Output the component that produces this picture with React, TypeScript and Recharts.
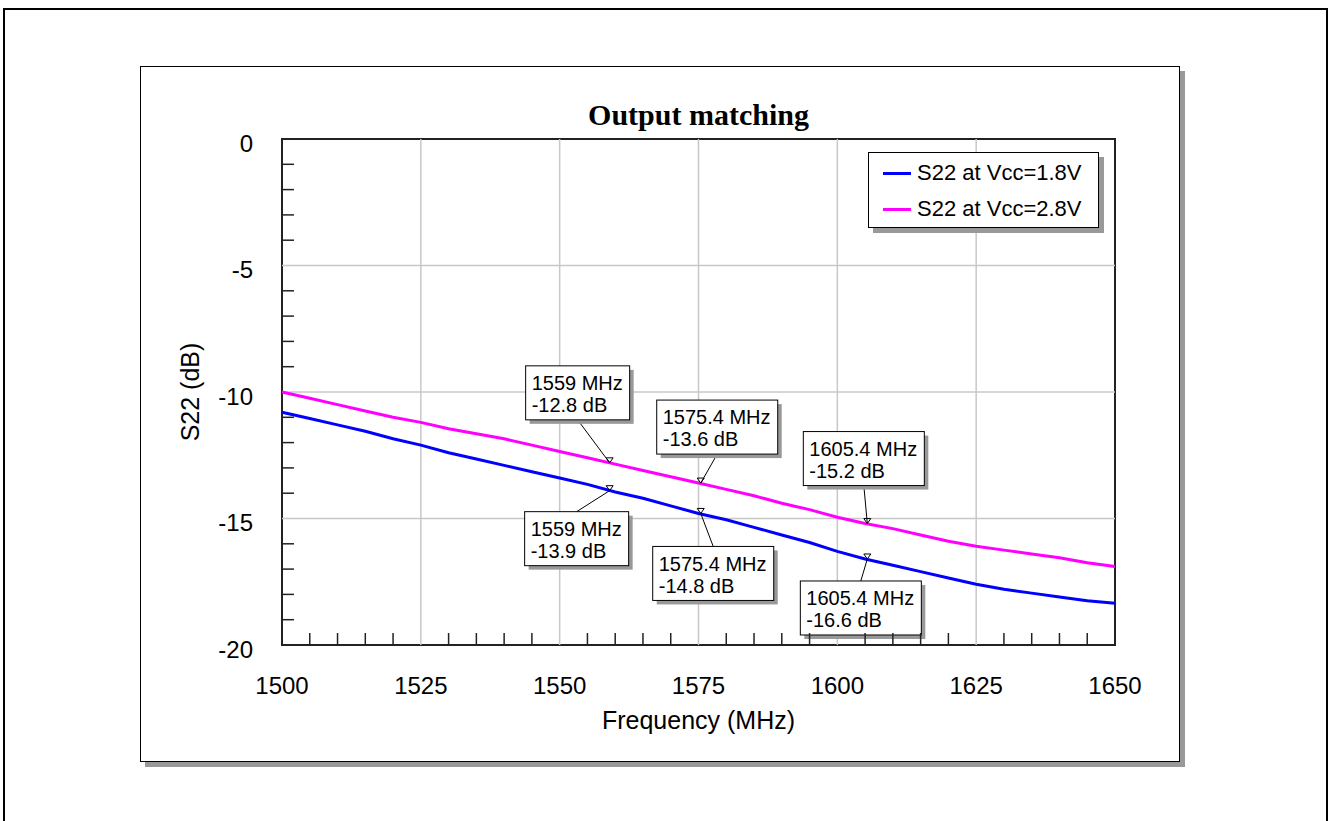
import React from "react";
import {
  LineChart,
  Line,
  XAxis,
  YAxis,
  ReferenceLine,
  ReferenceArea,
  ReferenceDot,
  Legend,
} from "recharts";

// frequency points (MHz)
const frequencies = [
  1500, 1505, 1510, 1515, 1520, 1525, 1530, 1535, 1540, 1545, 1550, 1555, 1560,
  1565, 1570, 1575, 1580, 1585, 1590, 1595, 1600, 1605, 1610, 1615, 1620, 1625,
  1630, 1635, 1640, 1645, 1650,
];

// S22 (dB) at Vcc = 1.8 V
const s22Vcc18 = [
  -10.8, -11.05, -11.3, -11.55, -11.85, -12.1, -12.4, -12.65, -12.9, -13.15,
  -13.4, -13.65, -13.95, -14.2, -14.5, -14.8, -15.05, -15.35, -15.65, -15.95,
  -16.3, -16.6, -16.85, -17.1, -17.35, -17.6, -17.8, -17.95, -18.1, -18.25,
  -18.35,
];

// S22 (dB) at Vcc = 2.8 V
const s22Vcc28 = [
  -10.0, -10.25, -10.5, -10.75, -11.0, -11.2, -11.45, -11.65, -11.85, -12.1,
  -12.35, -12.6, -12.85, -13.1, -13.35, -13.6, -13.85, -14.1, -14.4, -14.65,
  -14.95, -15.2, -15.4, -15.65, -15.9, -16.1, -16.25, -16.4, -16.55, -16.75,
  -16.9,
];

const xTicks = [
  1500, 1505, 1510, 1515, 1520, 1525, 1530, 1535, 1540, 1545, 1550, 1555, 1560,
  1565, 1570, 1575, 1580, 1585, 1590, 1595, 1600, 1605, 1610, 1615, 1620, 1625,
  1630, 1635, 1640, 1645, 1650,
];
const xGrid = [1525, 1550, 1575, 1600, 1625];
const yTicks = [
  0, -1, -2, -3, -4, -5, -6, -7, -8, -9, -10, -11, -12, -13, -14, -15, -16, -17,
  -18, -19, -20,
];
const yGrid = [-5, -10, -15];

// marker callouts
const markerFreqs = [1559, 1559, 1575.4, 1575.4, 1605.4, 1605.4];
const markerValues = [-12.8, -13.9, -13.6, -14.8, -15.2, -16.6];

// where each callout box sits relative to its point
const calloutLayout = [
  { dx: -84, dy: -97, w: 104 },
  { dx: -85, dy: 21, w: 104 },
  { dx: -44, dy: -83, w: 121 },
  { dx: -48, dy: 33, w: 121 },
  { dx: -64, dy: -92, w: 121 },
  { dx: -67, dy: 22, w: 121 },
];

const chartData = frequencies.map((f, i) => ({
  f,
  v18: s22Vcc18[i],
  v28: s22Vcc28[i],
}));

const FONT = "'Liberation Sans', Arial, sans-serif";

const XTick = (props: any) => {
  const { x, y, payload } = props;
  const v = payload.value;
  if (v % 25 === 0) {
    return (
      <text
        x={x}
        y={y + 40}
        dy="0.355em"
        textAnchor="middle"
        fontSize={24}
        fontFamily={FONT}
        fill="#000"
      >
        {v}
      </text>
    );
  }
  return <line x1={x} y1={y} x2={x} y2={y - 12} stroke="#222" strokeWidth={1.5} />;
};

const YTick = (props: any) => {
  const { x, y, payload } = props;
  const v = payload.value;
  if (v % 5 === 0) {
    return (
      <text
        x={x - 29}
        y={y + 4}
        dy="0.355em"
        textAnchor="end"
        fontSize={24}
        fontFamily={FONT}
        fill="#000"
      >
        {v}
      </text>
    );
  }
  return <line x1={x} y1={y} x2={x + 12} y2={y} stroke="#222" strokeWidth={1.5} />;
};

const Callout = ({ cx, cy, idx }: { cx: number; cy: number; idx: number }) => {
  const { dx, dy, w } = calloutLayout[idx];
  const h = 54;
  const bx = cx + dx;
  const by = cy + dy;
  const sx = bx + w / 2;
  const sy = dy < 0 ? by + h : by;
  return (
    <g>
      <line x1={sx} y1={sy} x2={cx} y2={cy} stroke="#000" strokeWidth={1} />
      <path
        d={`M${cx - 3.5},${cy - 5} L${cx + 3.5},${cy - 5} L${cx},${cy} Z`}
        fill="none"
        stroke="#000"
        strokeWidth={1}
      />
      <rect x={bx + 4} y={by + 4} width={w} height={h} fill="#999" />
      <rect x={bx} y={by} width={w} height={h} fill="#fff" stroke="#000" strokeWidth={1} />
      <text x={bx + 6} y={by + 17} dy="0.355em" fontSize={20} fontFamily={FONT} fill="#000">
        {`${markerFreqs[idx]} MHz`}
      </text>
      <text x={bx + 6} y={by + 39} dy="0.355em" fontSize={20} fontFamily={FONT} fill="#000">
        {`${markerValues[idx]} dB`}
      </text>
    </g>
  );
};

const LegendBox = (props: any) => {
  const items = props.payload || [];
  return (
    <div
      style={{
        width: 229,
        height: 74,
        border: "1px solid #000",
        background: "#fff",
        boxShadow: "5px 5px 0 #999",
        fontFamily: FONT,
        fontSize: 22,
        position: "relative",
      }}
    >
      {items.map((it: any, i: number) => (
        <div
          key={it.value}
          style={{
            position: "absolute",
            left: 14,
            top: 20 + i * 36 - 13,
            height: 26,
            display: "flex",
            alignItems: "center",
            whiteSpace: "nowrap",
          }}
        >
          <span
            style={{
              display: "inline-block",
              width: 28,
              height: 3,
              background: it.color,
              marginRight: 6,
            }}
          />
          <span style={{ color: "#000" }}>{it.value}</span>
        </div>
      ))}
    </div>
  );
};

export default function App() {
  return (
    <div
      style={{
        position: "fixed",
        left: 0,
        top: 0,
        width: 1330,
        height: 821,
        background: "#fff",
        overflow: "hidden",
      }}
    >
      {/* outer frame */}
      <div
        style={{
          position: "absolute",
          left: 3,
          top: 8,
          width: 1321,
          height: 900,
          border: "2px solid #000",
        }}
      />
      {/* chart panel */}
      <div
        style={{
          position: "absolute",
          left: 140,
          top: 66,
          width: 1038,
          height: 694,
          border: "1px solid #000",
          background: "#fff",
          boxShadow: "5px 5px 0 #999",
        }}
      />
      <div
        style={{
          position: "absolute",
          left: 282,
          width: 833,
          top: 98,
          lineHeight: "34px",
          textAlign: "center",
          fontFamily: "'Liberation Serif', 'Times New Roman', serif",
          fontWeight: "bold",
          fontSize: 30,
          color: "#000",
        }}
      >
        Output matching
      </div>
      <div style={{ position: "absolute", left: 0, top: 0 }}>
        <LineChart
          width={1330}
          height={821}
          data={chartData}
          margin={{ top: 139, right: 215, bottom: 76, left: 162 }}
        >
          {xGrid.map((v) => (
            <ReferenceLine key={`gx${v}`} x={v} stroke="#c8c8c8" strokeWidth={1.5} />
          ))}
          {yGrid.map((v) => (
            <ReferenceLine key={`gy${v}`} y={v} stroke="#c8c8c8" strokeWidth={1.5} />
          ))}
          <XAxis
            dataKey="f"
            type="number"
            domain={[1500, 1650]}
            ticks={xTicks}
            interval={0}
            tick={<XTick />}
            tickLine={false}
            axisLine={false}
            tickSize={0}
            tickMargin={0}
            height={100}
            label={{
              content: (p: any) => {
                const vb = p.viewBox;
                return (
                  <text
                    x={vb.x + vb.width / 2}
                    y={vb.y + 75}
                    dy="0.355em"
                    textAnchor="middle"
                    fontSize={25}
                    fontFamily={FONT}
                    fill="#000"
                  >
                    Frequency (MHz)
                  </text>
                );
              },
            }}
          />
          <YAxis
            type="number"
            domain={[-20, 0]}
            ticks={yTicks}
            interval={0}
            tick={<YTick />}
            tickLine={false}
            axisLine={false}
            tickSize={0}
            tickMargin={0}
            width={120}
            label={{
              content: (p: any) => {
                const vb = p.viewBox;
                const lx = vb.x + 28;
                const ly = vb.y + vb.height / 2;
                return (
                  <text
                    x={lx}
                    y={ly}
                    dy="0.355em"
                    textAnchor="middle"
                    transform={`rotate(-90 ${lx} ${ly})`}
                    fontSize={25}
                    fontFamily={FONT}
                    fill="#000"
                  >
                    S22 (dB)
                  </text>
                );
              },
            }}
          />
          <ReferenceArea
            x1={1500}
            x2={1650}
            y1={-20}
            y2={0}
            fill="none"
            stroke="#222"
            strokeWidth={2}
          />
          <Line
            dataKey="v18"
            name="S22 at Vcc=1.8V"
            stroke="#0000ff"
            strokeWidth={3}
            dot={false}
            isAnimationActive={false}
          />
          <Line
            dataKey="v28"
            name="S22 at Vcc=2.8V"
            stroke="#ff00ff"
            strokeWidth={3}
            dot={false}
            isAnimationActive={false}
          />
          {markerFreqs.map((f, i) => (
            <ReferenceDot
              key={`m${i}`}
              x={f}
              y={markerValues[i]}
              r={0}
              ifOverflow="visible"
              shape={(p: any) => <Callout cx={p.cx} cy={p.cy} idx={i} />}
            />
          ))}
          <Legend
            layout="horizontal"
            verticalAlign="middle"
            align="center"
            wrapperStyle={{ left: 868, top: 152, width: 231, height: 76 }}
            content={<LegendBox />}
          />
        </LineChart>
      </div>
    </div>
  );
}
